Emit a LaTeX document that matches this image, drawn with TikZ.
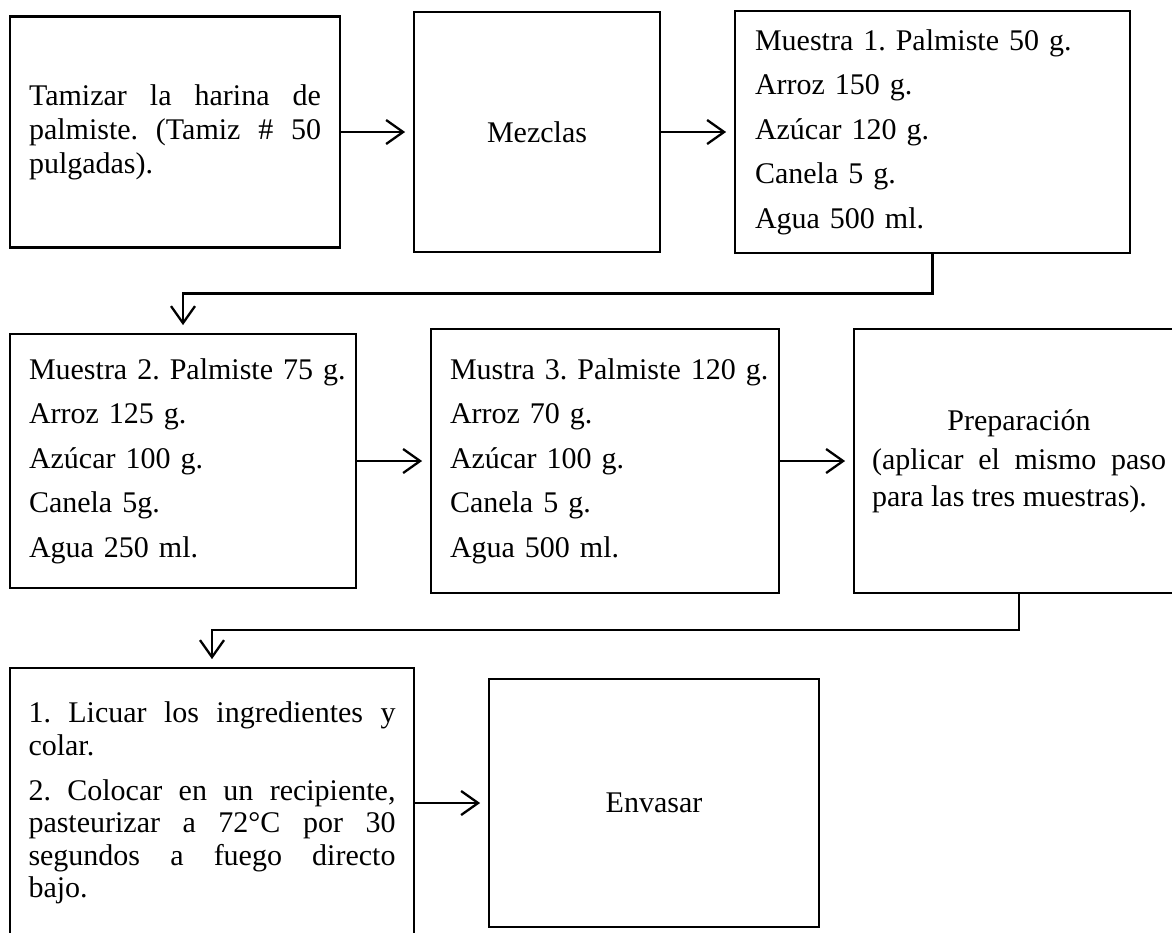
\documentclass[tikz,border=0pt]{standalone}
\usepackage{fontspec}
\setmainfont{Liberation Serif}
\usetikzlibrary{arrows.meta,calc}

\tikzset{
  stepbox/.style={draw, line width=2.8pt, inner sep=0pt,
    execute at begin node={\frenchspacing\hyphenpenalty=10000 \tolerance=10000 \hbadness=10000}},
  bodytext/.style={font=\fontsize{30}{34}\selectfont},
  listtext/.style={font=\fontsize{30}{44.5}\selectfont, align=left},
  flow/.style={line width=2.3pt,
    -{Straight Barb[length=17pt,width=24pt,line width=2.3pt]},
    shorten >=7.5pt},
}

\begin{document}
\begin{tikzpicture}[x=1pt,y=-1pt]
\useasboundingbox (0,0) rectangle (1172,932);
\clip (0,0) rectangle (1172,932);

% first row
\node[stepbox, bodytext, minimum width=330pt, minimum height=231pt,
      text width=292pt, align=justify] (A) at (175,132)
  {Tamizar la harina de\linebreak palmiste. (Tamiz \# 50\linebreak pulgadas).};
\node[stepbox, bodytext, minimum width=246pt, minimum height=240pt,
      align=center] (B) at (537,132) {Mezclas};
\node[stepbox, listtext, minimum width=395pt, minimum height=242pt,
      text width=355pt] (C) at (932.5,132)
  {\mbox{Muestra 1. Palmiste 50 g.}\\ Arroz 150 g.\\ Azúcar 120 g.\\ Canela 5 g.\\ Agua 500 ml.};

% second row
\node[stepbox, listtext, minimum width=346pt, minimum height=254pt,
      text width=308pt] (D) at (183,461)
  {\mbox{Muestra 2. Palmiste 75 g.}\\ Arroz 125 g.\\ Azúcar 100 g.\\ Canela 5g.\\ Agua 250 ml.};
\node[stepbox, listtext, minimum width=348pt, minimum height=264pt,
      text width=310pt] (E) at (605,461)
  {\mbox{Mustra 3. Palmiste 120 g.}\\ Arroz 70 g.\\ Azúcar 100 g.\\ Canela 5 g.\\ Agua 500 ml.};
\node[stepbox, font=\fontsize{30}{37}\selectfont, minimum width=330pt,
      minimum height=264pt, text width=294pt, align=justify] (F) at (1019,461)
  {{\centering Preparación\par}\vspace{2pt}(aplicar el mismo paso\linebreak para las tres muestras).};

% third row
\node[stepbox, font=\fontsize{30}{32.5}\selectfont, minimum width=404pt,
      minimum height=270pt, text width=367pt, align=justify] (G) at (212,803)
  {1. Licuar los ingredientes y\linebreak colar.\par\vspace{12.5pt}%
   2. Colocar en un recipiente,\linebreak pasteurizar a 72°C por 30\linebreak
   segundos a fuego directo\linebreak bajo.};
\node[stepbox, bodytext, minimum width=330pt, minimum height=248pt,
      align=center] (H) at (654,803) {Envasar};

% elbow points of the row-to-row connectors
\coordinate (k1) at (0,293.5);
\coordinate (k2) at (0,630);

% connectors
\draw[flow] (A.east) -- (B.west);
\draw[flow] (B.east) -- (C.west);
\draw[flow] (C.south) -- (C.south |- k1) -| (D.north);
\draw[flow] (D.east) -- (E.west);
\draw[flow] (E.east) -- (F.west);
\draw[flow] (F.south) -- (F.south |- k2) -| (G.north);
\draw[flow] (G.east) -- (H.west);
\end{tikzpicture}
\end{document}
